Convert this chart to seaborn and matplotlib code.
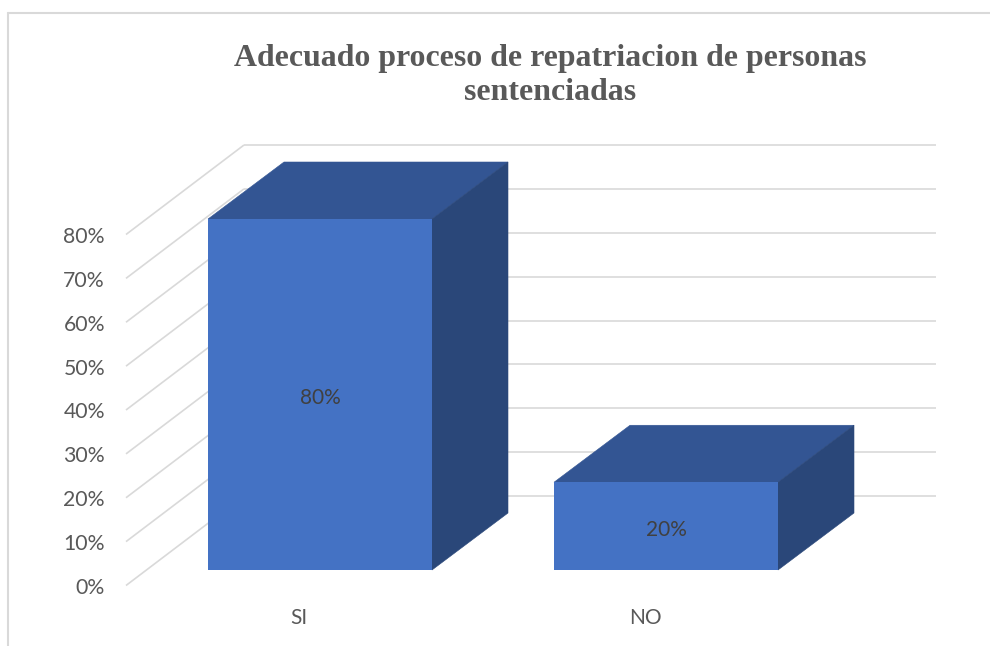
import matplotlib
matplotlib.use("Agg")
import matplotlib.pyplot as plt
from matplotlib.lines import Line2D
from matplotlib.patches import Polygon
import pandas as pd
import seaborn as sns

# Survey results
categories = ["SI", "NO"]
values = [80, 20]
bar_labels = ["80%", "20%"]
tick_values = [0, 10, 20, 30, 40, 50, 60, 70, 80]
tick_labels = ["0%", "10%", "20%", "30%", "40%", "50%", "60%", "70%", "80%"]
title = "Adecuado proceso de repatriacion de personas\nsentenciadas"

# Canvas geometry, in pixels
W, H = 990, 646
PX_X = 346.0       # pixels per category step
PX_Y = 4.3875      # pixels per percentage point
ORIGIN_X = 320.0   # pixel column of the first category
ORIGIN_Y = 570.0   # pixel row of 0% on the bars' front plane

# Oblique projection offsets
BAR_DX, BAR_DY = 76 / PX_X, 57 / PX_Y
WALL_FRONT_DY = -15.5 / PX_Y
WALL_BACK_DY = 74 / PX_Y
WALL_LEFT = (126 - ORIGIN_X) / PX_X
WALL_CORNER = (244 - ORIGIN_X) / PX_X
WALL_RIGHT = (936 - ORIGIN_X) / PX_X
BAR_WIDTH = 224 / PX_X

FRONT = "#4472C4"
TOP = "#335593"
SIDE = "#2A4779"
GRID = "#D9D9D9"
TEXT = "#595959"

sns.set_theme(style="white")
plt.rcParams["font.family"] = ["Lato", "DejaVu Sans"]

fig = plt.figure(figsize=(W / 100, H / 100), dpi=100, facecolor="white")
ax = fig.add_axes([0, 0, 1, 1])

df = pd.DataFrame({"categoria": categories, "valor": values})
sns.barplot(data=df, x="categoria", y="valor", color=FRONT, saturation=1,
            width=BAR_WIDTH, errorbar=None, linewidth=0, zorder=4, ax=ax)

ax.set_xlim(-ORIGIN_X / PX_X, (W - ORIGIN_X) / PX_X)
ax.set_ylim((ORIGIN_Y - H) / PX_Y, ORIGIN_Y / PX_Y)
ax.axis("off")

# Floor-to-wall diagonals and back wall gridlines
for tick in tick_values:
    ax.plot([WALL_LEFT, WALL_CORNER], [tick + WALL_FRONT_DY, tick + WALL_BACK_DY],
            color=GRID, lw=1.2, zorder=1, solid_capstyle="butt")
    ax.plot([WALL_CORNER, WALL_RIGHT], [tick + WALL_BACK_DY] * 2,
            color=GRID, lw=1.2, zorder=1, solid_capstyle="butt")

# Top and side faces of each bar; side is drawn over the top so their seam stays dark
for i, val in enumerate(values):
    left, right = i - BAR_WIDTH / 2, i + BAR_WIDTH / 2
    ax.add_patch(Polygon([(left, val), (right, val),
                          (right + BAR_DX, val + BAR_DY), (left + BAR_DX, val + BAR_DY)],
                         closed=True, facecolor=TOP, edgecolor=TOP, lw=0.4, zorder=2.5))
    ax.add_patch(Polygon([(right, 0), (right, val),
                          (right + BAR_DX, val + BAR_DY), (right + BAR_DX, BAR_DY)],
                         closed=True, facecolor=SIDE, edgecolor=SIDE, lw=0.4, zorder=3))

value_texts = ax.bar_label(ax.containers[0], labels=bar_labels, label_type="center",
                           color="#404040", fontsize=15, zorder=5)
for text in value_texts:
    text.xyann = (0, -2.5)

# Axis labels
for tick, label in zip(tick_values, tick_labels):
    ax.text((105 - ORIGIN_X) / PX_X, tick + WALL_FRONT_DY - 2.5 / PX_Y, label, ha="right",
            va="center", color=TEXT, fontsize=15.3)
for i, label in enumerate(categories):
    ax.text(i - 21 / PX_X, (ORIGIN_Y - 618.5) / PX_Y, label, ha="center",
            va="center", color=TEXT, fontsize=15)

ax.text((550 - ORIGIN_X) / PX_X, (ORIGIN_Y - 75.5) / PX_Y, title, ha="center", va="center",
        family=["Liberation Serif"], fontweight="bold", fontsize=22.95,
        color=TEXT, linespacing=1.24)

# Chart frame: only the top and left edges fall on the canvas
fig.add_artist(Line2D([8 / W, 1], [1 - 13 / H] * 2, color=GRID, lw=1.5))
fig.add_artist(Line2D([8 / W] * 2, [0, 1 - 13 / H], color=GRID, lw=1.5))

fig.savefig("out.png", dpi=100)
